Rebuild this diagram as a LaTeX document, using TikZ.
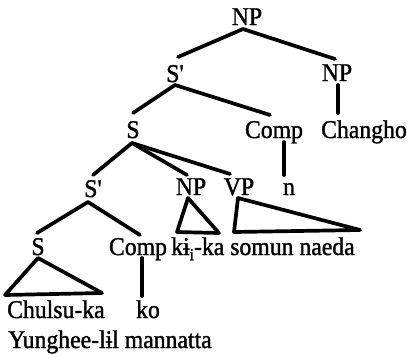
\documentclass[tikz,border=0pt]{standalone}
\usepackage{fontspec}
\setmainfont[FakeBold=1.3,FakeStretch=0.93,Ligatures=TeXOff]{Liberation Serif}
\begin{document}
\begin{tikzpicture}[x=1pt,y=-1pt,
  lab/.style={anchor=base,inner sep=0pt,font=\fontsize{25.5}{28}\selectfont},
  branch/.style={line width=3.7pt,line cap=round,line join=round}]
\useasboundingbox[fill=white] (0,0) rectangle (409,357);

% category labels
\node[lab] (np0)   at (247,25)  {NP};
\node[lab] (sbar1) at (175,82)  {S'};
\node[lab] (np1)   at (337,81)  {NP};
\node[lab] (s1)    at (133,138) {S};
\node[lab] (comp1) at (274,138) {Comp};
\node[lab] (chg)   at (364,138) {Changho};
\node[lab] (sbar2) at (93,197)  {S'};
\node[lab] (np2)   at (191,195) {NP};
\node[lab] (vp)    at (239,195) {VP};
\node[lab] (n)     at (289,195) {n};
\node[lab] (s2)    at (38,255)  {S};
\node[lab] (comp2) at (138,255) {Comp};
\node[lab,anchor=base west] (kika) at (171,255)
  {k\char"0268\raisebox{-0.45ex}{\fontsize{17}{17}\selectfont i}-ka somun naeda};
\node[lab,anchor=base west] (chulsu) at (7,318) {Chulsu-ka};
\node[lab] (ko)    at (148,318) {ko};
\node[lab,anchor=base west] (yung) at (8,348) {Yunghee-l\char"0268l mannatta};

% attachment points
\coordinate (np0b)   at (243,29);
\coordinate (sbar1t) at (178,57);
\coordinate (np1t)   at (335,59);
\coordinate (sbar1b) at (175,85);
\coordinate (s1t)    at (133,113);
\coordinate (comp1t) at (270,115);
\coordinate (np1b)   at (338,85);
\coordinate (chgt)   at (338,113);
\coordinate (s1b)    at (132,143);
\coordinate (sbar2t) at (93,175);
\coordinate (np2t)   at (187,175);
\coordinate (vpt)    at (230,174);
\coordinate (comp1b) at (284,142);
\coordinate (nt)     at (284,175);
\coordinate (sbar2b) at (88,202);
\coordinate (s2t)    at (37,233);
\coordinate (comp2t) at (140,235);
\coordinate (comp2b) at (142,258);
\coordinate (kot)    at (142,296);

% branches
\draw[branch] (sbar1t) -- (np0b) -- (np1t);
\draw[branch] (s1t) -- (sbar1b) -- (comp1t);
\draw[branch] (np1b) -- (chgt);
\draw[branch] (sbar2t) -- (s1b) -- (np2t);
\draw[branch] (s1b) -- (vpt);
\draw[branch] (comp1b) -- (nt);
\draw[branch] (s2t) -- (sbar2b) -- (comp2t);
\draw[branch] (comp2b) -- (kot);

% triangles over unanalysed constituents
\draw[branch] (188,198) -- (177,232) -- (219,233) -- cycle;
\draw[branch] (238,198) -- (234,232) -- (360,230) -- cycle;
\draw[branch] (38,258) -- (5,295) -- (102,293) -- cycle;
\end{tikzpicture}
\end{document}
